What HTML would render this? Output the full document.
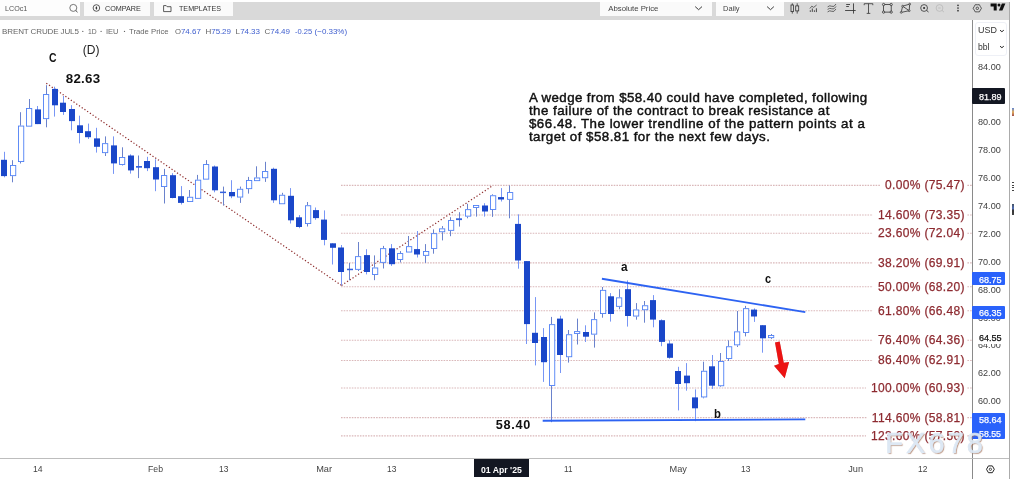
<!DOCTYPE html>
<html><head><meta charset="utf-8"><title>chart</title>
<style>
html,body{margin:0;padding:0;background:#fff}
body{width:1014px;height:479px;position:relative;overflow:hidden;font-family:"Liberation Sans",sans-serif}
.t{position:absolute;white-space:pre;font-family:"Liberation Sans",sans-serif;-webkit-font-smoothing:antialiased}
.a{position:absolute}
svg{position:absolute;left:0;top:0}
</style></head><body>
<div id="w" style="position:absolute;left:0;top:0;width:1014px;height:479px;will-change:transform">
<!-- toolbar -->
<div class="a" style="left:0;top:2px;width:1009px;height:18px;background:#d9d9d9"></div>
<div class="a" style="left:0;top:0;width:80px;height:16px;background:#fdfdfd"></div>
<div class="a" style="left:84px;top:2px;width:66px;height:14px;background:#fafafa"></div>
<div class="a" style="left:153.8px;top:2px;width:79.2px;height:14px;background:#fafafa"></div>
<div class="a" style="left:600px;top:2px;width:111.6px;height:13.6px;background:#fafafa"></div>
<div class="a" style="left:715.8px;top:2px;width:67.8px;height:13.6px;background:#fafafa"></div>
<!-- price axis -->
<div class="a" style="left:972px;top:20px;width:1px;height:459px;background:#8a8a8a"></div>
<div class="a" style="left:1008.7px;top:2px;width:1.5px;height:477px;background:#ababab"></div>
<div class="a" style="left:1011.8px;top:182px;width:2.2px;height:10px;opacity:.85;background:repeating-linear-gradient(#222 0 1.2px,#fff 1.2px 2.6px)"></div>
<div class="a" style="left:1011.8px;top:203.5px;width:2.2px;height:11px;opacity:.85;background:linear-gradient(#234 0,#35a 40%,#111 60%,#222 100%)"></div>
<div class="a" style="left:1012.4px;top:107.5px;width:1.6px;height:8px;opacity:.8;background:linear-gradient(#36c,#d93,#822)"></div>
<!-- time axis line -->
<div class="a" style="left:0;top:458px;width:1009px;height:1px;background:#bdbdbd"></div>
<!-- unit box -->
<div class="a" style="left:974.5px;top:22.3px;width:32.3px;height:33.4px;border:1px solid #eef0f6;border-radius:3px;box-sizing:border-box;background:#fff"></div>
<svg width="1014" height="479" viewBox="0 0 1014 479">
<line x1="341" y1="185.39" x2="972" y2="185.39" stroke="#dab8ba" stroke-width="1.05" stroke-dasharray="1.6 1.1"/>
<line x1="341" y1="214.94" x2="972" y2="214.94" stroke="#dab8ba" stroke-width="1.05" stroke-dasharray="1.6 1.1"/>
<line x1="341" y1="233.20" x2="972" y2="233.20" stroke="#dab8ba" stroke-width="1.05" stroke-dasharray="1.6 1.1"/>
<line x1="341" y1="262.89" x2="972" y2="262.89" stroke="#dab8ba" stroke-width="1.05" stroke-dasharray="1.6 1.1"/>
<line x1="341" y1="286.73" x2="972" y2="286.73" stroke="#dab8ba" stroke-width="1.05" stroke-dasharray="1.6 1.1"/>
<line x1="341" y1="310.71" x2="972" y2="310.71" stroke="#dab8ba" stroke-width="1.05" stroke-dasharray="1.6 1.1"/>
<line x1="341" y1="340.26" x2="972" y2="340.26" stroke="#dab8ba" stroke-width="1.05" stroke-dasharray="1.6 1.1"/>
<line x1="341" y1="360.47" x2="972" y2="360.47" stroke="#dab8ba" stroke-width="1.05" stroke-dasharray="1.6 1.1"/>
<line x1="341" y1="388.08" x2="972" y2="388.08" stroke="#dab8ba" stroke-width="1.05" stroke-dasharray="1.6 1.1"/>
<line x1="341" y1="417.63" x2="972" y2="417.63" stroke="#dab8ba" stroke-width="1.05" stroke-dasharray="1.6 1.1"/>
<line x1="341" y1="435.89" x2="972" y2="435.89" stroke="#dab8ba" stroke-width="1.05" stroke-dasharray="1.6 1.1"/>
<line x1="46.3" y1="83.2" x2="341.5" y2="285.4" stroke="#8e2c2c" stroke-width="1.2" stroke-dasharray="1.25 2.05"/>
<line x1="341.5" y1="285.4" x2="493" y2="185.5" stroke="#8e2c2c" stroke-width="1.2" stroke-dasharray="1.25 2.05"/>
<line x1="4.50" y1="151.8" x2="4.50" y2="177.3" stroke="#7896f5" stroke-width="1"/>
<rect x="1.00" y="159.8" width="6" height="16.3" fill="#1a47c9"/>
<line x1="12.50" y1="160.2" x2="12.50" y2="165.0" stroke="#6a82cc" stroke-width="1"/>
<line x1="12.50" y1="176.1" x2="12.50" y2="182.3" stroke="#6a82cc" stroke-width="1"/>
<rect x="10.45" y="165.45" width="5.3" height="10.20" fill="#fff" stroke="#4f80f5" stroke-width="0.9"/>
<line x1="20.50" y1="112.2" x2="20.50" y2="125.6" stroke="#6a82cc" stroke-width="1"/>
<line x1="20.50" y1="162.0" x2="20.50" y2="163.5" stroke="#6a82cc" stroke-width="1"/>
<rect x="18.45" y="126.05" width="5.3" height="35.50" fill="#fff" stroke="#4f80f5" stroke-width="0.9"/>
<line x1="29.50" y1="99.0" x2="29.50" y2="108.0" stroke="#6a82cc" stroke-width="1"/>
<line x1="29.50" y1="126.6" x2="29.50" y2="126.6" stroke="#6a82cc" stroke-width="1"/>
<rect x="26.45" y="108.45" width="5.3" height="17.70" fill="#fff" stroke="#4f80f5" stroke-width="0.9"/>
<line x1="37.50" y1="106.0" x2="37.50" y2="124.1" stroke="#7896f5" stroke-width="1"/>
<rect x="35.00" y="109.4" width="6" height="14.7" fill="#1a47c9"/>
<line x1="46.50" y1="85.2" x2="46.50" y2="94.1" stroke="#6a82cc" stroke-width="1"/>
<line x1="46.50" y1="119.1" x2="46.50" y2="127.3" stroke="#6a82cc" stroke-width="1"/>
<rect x="43.45" y="94.55" width="5.3" height="24.10" fill="#fff" stroke="#4f80f5" stroke-width="0.9"/>
<line x1="54.50" y1="86.7" x2="54.50" y2="116.6" stroke="#7896f5" stroke-width="1"/>
<rect x="52.00" y="88.9" width="6" height="16.4" fill="#1a47c9"/>
<line x1="63.50" y1="96.0" x2="63.50" y2="114.9" stroke="#7896f5" stroke-width="1"/>
<rect x="60.00" y="102.7" width="6" height="9.3" fill="#1a47c9"/>
<line x1="71.50" y1="105.2" x2="71.50" y2="130.3" stroke="#7896f5" stroke-width="1"/>
<rect x="69.00" y="109.0" width="6" height="12.1" fill="#1a47c9"/>
<line x1="79.50" y1="115.7" x2="79.50" y2="143.4" stroke="#7896f5" stroke-width="1"/>
<rect x="77.00" y="125.3" width="6" height="7.7" fill="#1a47c9"/>
<line x1="88.50" y1="123.6" x2="88.50" y2="139.0" stroke="#7896f5" stroke-width="1"/>
<rect x="85.00" y="131.2" width="6" height="6.0" fill="#1a47c9"/>
<line x1="96.50" y1="127.8" x2="96.50" y2="152.6" stroke="#7896f5" stroke-width="1"/>
<rect x="94.00" y="138.4" width="6" height="8.4" fill="#1a47c9"/>
<line x1="105.50" y1="136.4" x2="105.50" y2="143.2" stroke="#6a82cc" stroke-width="1"/>
<line x1="105.50" y1="153.1" x2="105.50" y2="156.0" stroke="#6a82cc" stroke-width="1"/>
<rect x="102.45" y="143.65" width="5.3" height="9.00" fill="#fff" stroke="#4f80f5" stroke-width="0.9"/>
<line x1="113.50" y1="136.4" x2="113.50" y2="173.9" stroke="#7896f5" stroke-width="1"/>
<rect x="111.00" y="145.4" width="6" height="18.0" fill="#1a47c9"/>
<line x1="122.50" y1="147.3" x2="122.50" y2="157.0" stroke="#6a82cc" stroke-width="1"/>
<line x1="122.50" y1="164.9" x2="122.50" y2="165.5" stroke="#6a82cc" stroke-width="1"/>
<rect x="119.45" y="157.45" width="5.3" height="7.00" fill="#fff" stroke="#4f80f5" stroke-width="0.9"/>
<line x1="130.50" y1="154.3" x2="130.50" y2="173.6" stroke="#7896f5" stroke-width="1"/>
<rect x="128.00" y="155.5" width="6" height="14.9" fill="#1a47c9"/>
<line x1="138.50" y1="155.5" x2="138.50" y2="178.1" stroke="#6a82cc" stroke-width="1"/>
<rect x="136.00" y="166.0" width="6" height="1.7" fill="#3562e0"/>
<line x1="147.50" y1="156.8" x2="147.50" y2="171.1" stroke="#7896f5" stroke-width="1"/>
<rect x="144.00" y="161.0" width="6" height="7.2" fill="#1a47c9"/>
<line x1="155.50" y1="159.3" x2="155.50" y2="191.2" stroke="#7896f5" stroke-width="1"/>
<rect x="153.00" y="167.2" width="6" height="12.3" fill="#1a47c9"/>
<line x1="164.50" y1="168.9" x2="164.50" y2="175.1" stroke="#6a82cc" stroke-width="1"/>
<line x1="164.50" y1="187.0" x2="164.50" y2="203.5" stroke="#6a82cc" stroke-width="1"/>
<rect x="161.45" y="175.55" width="5.3" height="11.00" fill="#fff" stroke="#4f80f5" stroke-width="0.9"/>
<line x1="172.50" y1="173.2" x2="172.50" y2="198.3" stroke="#7896f5" stroke-width="1"/>
<rect x="170.00" y="175.2" width="6" height="22.8" fill="#1a47c9"/>
<line x1="181.50" y1="186.1" x2="181.50" y2="204.5" stroke="#7896f5" stroke-width="1"/>
<rect x="178.00" y="196.2" width="6" height="6.7" fill="#1a47c9"/>
<line x1="189.50" y1="190.0" x2="189.50" y2="196.8" stroke="#6a82cc" stroke-width="1"/>
<line x1="189.50" y1="202.0" x2="189.50" y2="202.0" stroke="#6a82cc" stroke-width="1"/>
<rect x="187.45" y="197.25" width="5.3" height="4.30" fill="#fff" stroke="#4f80f5" stroke-width="0.9"/>
<line x1="197.50" y1="174.9" x2="197.50" y2="179.7" stroke="#6a82cc" stroke-width="1"/>
<line x1="197.50" y1="198.8" x2="197.50" y2="198.8" stroke="#6a82cc" stroke-width="1"/>
<rect x="195.45" y="180.15" width="5.3" height="18.20" fill="#fff" stroke="#4f80f5" stroke-width="0.9"/>
<line x1="206.50" y1="160.1" x2="206.50" y2="164.1" stroke="#6a82cc" stroke-width="1"/>
<line x1="206.50" y1="179.6" x2="206.50" y2="179.6" stroke="#6a82cc" stroke-width="1"/>
<rect x="203.45" y="164.55" width="5.3" height="14.60" fill="#fff" stroke="#4f80f5" stroke-width="0.9"/>
<line x1="214.50" y1="165.5" x2="214.50" y2="192.3" stroke="#7896f5" stroke-width="1"/>
<rect x="212.00" y="166.5" width="6" height="23.8" fill="#1a47c9"/>
<line x1="223.50" y1="186.6" x2="223.50" y2="205.4" stroke="#6a82cc" stroke-width="1"/>
<rect x="220.00" y="191.6" width="6" height="1.5" fill="#3562e0"/>
<line x1="231.50" y1="180.2" x2="231.50" y2="198.2" stroke="#7896f5" stroke-width="1"/>
<rect x="229.00" y="192.0" width="6" height="4.3" fill="#1a47c9"/>
<line x1="240.50" y1="186.6" x2="240.50" y2="188.8" stroke="#6a82cc" stroke-width="1"/>
<line x1="240.50" y1="197.5" x2="240.50" y2="202.9" stroke="#6a82cc" stroke-width="1"/>
<rect x="237.45" y="189.25" width="5.3" height="7.80" fill="#fff" stroke="#4f80f5" stroke-width="0.9"/>
<line x1="248.50" y1="176.9" x2="248.50" y2="180.0" stroke="#6a82cc" stroke-width="1"/>
<line x1="248.50" y1="189.1" x2="248.50" y2="193.6" stroke="#6a82cc" stroke-width="1"/>
<rect x="246.45" y="180.45" width="5.3" height="8.20" fill="#fff" stroke="#4f80f5" stroke-width="0.9"/>
<line x1="256.50" y1="166.3" x2="256.50" y2="177.5" stroke="#6a82cc" stroke-width="1"/>
<line x1="256.50" y1="181.1" x2="256.50" y2="181.1" stroke="#6a82cc" stroke-width="1"/>
<rect x="254.45" y="177.95" width="5.3" height="2.70" fill="#fff" stroke="#4f80f5" stroke-width="0.9"/>
<line x1="265.50" y1="161.8" x2="265.50" y2="171.1" stroke="#6a82cc" stroke-width="1"/>
<line x1="265.50" y1="178.2" x2="265.50" y2="181.9" stroke="#6a82cc" stroke-width="1"/>
<rect x="262.45" y="171.55" width="5.3" height="6.20" fill="#fff" stroke="#4f80f5" stroke-width="0.9"/>
<line x1="273.50" y1="167.7" x2="273.50" y2="202.9" stroke="#7896f5" stroke-width="1"/>
<rect x="271.00" y="168.8" width="6" height="31.5" fill="#1a47c9"/>
<line x1="282.50" y1="192.8" x2="282.50" y2="194.8" stroke="#6a82cc" stroke-width="1"/>
<line x1="282.50" y1="204.2" x2="282.50" y2="204.2" stroke="#6a82cc" stroke-width="1"/>
<rect x="279.45" y="195.25" width="5.3" height="8.50" fill="#fff" stroke="#4f80f5" stroke-width="0.9"/>
<line x1="290.50" y1="188.1" x2="290.50" y2="223.5" stroke="#7896f5" stroke-width="1"/>
<rect x="288.00" y="195.8" width="6" height="24.5" fill="#1a47c9"/>
<line x1="299.50" y1="215.1" x2="299.50" y2="228.2" stroke="#7896f5" stroke-width="1"/>
<rect x="296.00" y="217.3" width="6" height="9.7" fill="#1a47c9"/>
<line x1="307.50" y1="202.0" x2="307.50" y2="205.3" stroke="#6a82cc" stroke-width="1"/>
<line x1="307.50" y1="224.0" x2="307.50" y2="226.5" stroke="#6a82cc" stroke-width="1"/>
<rect x="305.45" y="205.75" width="5.3" height="17.80" fill="#fff" stroke="#4f80f5" stroke-width="0.9"/>
<line x1="315.50" y1="207.5" x2="315.50" y2="219.8" stroke="#7896f5" stroke-width="1"/>
<rect x="313.00" y="210.1" width="6" height="8.0" fill="#1a47c9"/>
<line x1="324.50" y1="210.4" x2="324.50" y2="245.3" stroke="#7896f5" stroke-width="1"/>
<rect x="321.00" y="219.6" width="6" height="20.3" fill="#1a47c9"/>
<line x1="332.50" y1="243.3" x2="332.50" y2="264.5" stroke="#7896f5" stroke-width="1"/>
<rect x="330.00" y="243.3" width="6" height="4.5" fill="#1a47c9"/>
<line x1="341.50" y1="245.0" x2="341.50" y2="285.4" stroke="#7896f5" stroke-width="1"/>
<rect x="338.00" y="247.5" width="6" height="24.5" fill="#1a47c9"/>
<line x1="349.50" y1="263.0" x2="349.50" y2="280.2" stroke="#6a82cc" stroke-width="1"/>
<rect x="347.00" y="268.7" width="6" height="1.5" fill="#3562e0"/>
<line x1="358.50" y1="242.0" x2="358.50" y2="256.2" stroke="#6a82cc" stroke-width="1"/>
<line x1="358.50" y1="269.8" x2="358.50" y2="271.0" stroke="#6a82cc" stroke-width="1"/>
<rect x="355.45" y="256.65" width="5.3" height="12.70" fill="#fff" stroke="#4f80f5" stroke-width="0.9"/>
<line x1="366.50" y1="249.2" x2="366.50" y2="274.4" stroke="#7896f5" stroke-width="1"/>
<rect x="364.00" y="255.1" width="6" height="16.9" fill="#1a47c9"/>
<line x1="374.50" y1="255.4" x2="374.50" y2="267.5" stroke="#6a82cc" stroke-width="1"/>
<line x1="374.50" y1="274.9" x2="374.50" y2="280.2" stroke="#6a82cc" stroke-width="1"/>
<rect x="372.45" y="267.95" width="5.3" height="6.50" fill="#fff" stroke="#4f80f5" stroke-width="0.9"/>
<line x1="383.50" y1="245.9" x2="383.50" y2="248.2" stroke="#6a82cc" stroke-width="1"/>
<line x1="383.50" y1="262.8" x2="383.50" y2="268.5" stroke="#6a82cc" stroke-width="1"/>
<rect x="380.45" y="248.65" width="5.3" height="13.70" fill="#fff" stroke="#4f80f5" stroke-width="0.9"/>
<line x1="391.50" y1="244.1" x2="391.50" y2="265.9" stroke="#7896f5" stroke-width="1"/>
<rect x="389.00" y="248.3" width="6" height="15.9" fill="#1a47c9"/>
<line x1="400.50" y1="251.1" x2="400.50" y2="253.1" stroke="#6a82cc" stroke-width="1"/>
<line x1="400.50" y1="260.0" x2="400.50" y2="262.4" stroke="#6a82cc" stroke-width="1"/>
<rect x="397.45" y="253.55" width="5.3" height="6.00" fill="#fff" stroke="#4f80f5" stroke-width="0.9"/>
<line x1="408.50" y1="236.0" x2="408.50" y2="246.2" stroke="#6a82cc" stroke-width="1"/>
<line x1="408.50" y1="252.5" x2="408.50" y2="252.5" stroke="#6a82cc" stroke-width="1"/>
<rect x="406.45" y="246.65" width="5.3" height="5.40" fill="#fff" stroke="#4f80f5" stroke-width="0.9"/>
<line x1="417.50" y1="231.0" x2="417.50" y2="257.5" stroke="#7896f5" stroke-width="1"/>
<rect x="414.00" y="249.1" width="6" height="5.4" fill="#1a47c9"/>
<line x1="425.50" y1="244.1" x2="425.50" y2="251.0" stroke="#6a82cc" stroke-width="1"/>
<line x1="425.50" y1="255.8" x2="425.50" y2="262.9" stroke="#6a82cc" stroke-width="1"/>
<rect x="423.45" y="251.45" width="5.3" height="3.90" fill="#fff" stroke="#4f80f5" stroke-width="0.9"/>
<line x1="433.50" y1="229.4" x2="433.50" y2="233.2" stroke="#6a82cc" stroke-width="1"/>
<line x1="433.50" y1="248.9" x2="433.50" y2="253.7" stroke="#6a82cc" stroke-width="1"/>
<rect x="431.45" y="233.65" width="5.3" height="14.80" fill="#fff" stroke="#4f80f5" stroke-width="0.9"/>
<line x1="442.50" y1="226.1" x2="442.50" y2="228.4" stroke="#6a82cc" stroke-width="1"/>
<line x1="442.50" y1="232.2" x2="442.50" y2="240.4" stroke="#6a82cc" stroke-width="1"/>
<rect x="439.45" y="228.85" width="5.3" height="2.90" fill="#fff" stroke="#4f80f5" stroke-width="0.9"/>
<line x1="450.50" y1="217.2" x2="450.50" y2="220.1" stroke="#6a82cc" stroke-width="1"/>
<line x1="450.50" y1="230.8" x2="450.50" y2="236.2" stroke="#6a82cc" stroke-width="1"/>
<rect x="448.45" y="220.55" width="5.3" height="9.80" fill="#fff" stroke="#4f80f5" stroke-width="0.9"/>
<line x1="459.50" y1="212.2" x2="459.50" y2="226.6" stroke="#6a82cc" stroke-width="1"/>
<rect x="456.00" y="218.3" width="6" height="1.8" fill="#3562e0"/>
<line x1="467.50" y1="203.8" x2="467.50" y2="209.2" stroke="#6a82cc" stroke-width="1"/>
<line x1="467.50" y1="216.6" x2="467.50" y2="218.3" stroke="#6a82cc" stroke-width="1"/>
<rect x="465.45" y="209.65" width="5.3" height="6.50" fill="#fff" stroke="#4f80f5" stroke-width="0.9"/>
<line x1="476.50" y1="205.2" x2="476.50" y2="205.0" stroke="#6a82cc" stroke-width="1"/>
<line x1="476.50" y1="207.9" x2="476.50" y2="216.6" stroke="#6a82cc" stroke-width="1"/>
<rect x="473.45" y="205.45" width="5.3" height="2.00" fill="#fff" stroke="#4f80f5" stroke-width="0.9"/>
<line x1="484.50" y1="203.2" x2="484.50" y2="216.6" stroke="#7896f5" stroke-width="1"/>
<rect x="482.00" y="205.5" width="6" height="6.0" fill="#1a47c9"/>
<line x1="492.50" y1="194.3" x2="492.50" y2="195.3" stroke="#6a82cc" stroke-width="1"/>
<line x1="492.50" y1="209.9" x2="492.50" y2="216.9" stroke="#6a82cc" stroke-width="1"/>
<rect x="490.45" y="195.75" width="5.3" height="13.70" fill="#fff" stroke="#4f80f5" stroke-width="0.9"/>
<line x1="501.50" y1="188.1" x2="501.50" y2="201.5" stroke="#7896f5" stroke-width="1"/>
<rect x="498.00" y="197.1" width="6" height="2.4" fill="#1a47c9"/>
<line x1="509.50" y1="185.4" x2="509.50" y2="192.1" stroke="#6a82cc" stroke-width="1"/>
<line x1="509.50" y1="199.8" x2="509.50" y2="218.3" stroke="#6a82cc" stroke-width="1"/>
<rect x="507.45" y="192.55" width="5.3" height="6.80" fill="#fff" stroke="#4f80f5" stroke-width="0.9"/>
<line x1="518.50" y1="214.3" x2="518.50" y2="268.7" stroke="#7896f5" stroke-width="1"/>
<rect x="515.00" y="223.9" width="6" height="36.6" fill="#1a47c9"/>
<line x1="526.50" y1="261.1" x2="526.50" y2="344.0" stroke="#7896f5" stroke-width="1"/>
<rect x="524.00" y="261.1" width="6" height="63.0" fill="#1a47c9"/>
<line x1="535.50" y1="297.1" x2="535.50" y2="365.4" stroke="#7896f5" stroke-width="1"/>
<rect x="532.00" y="332.8" width="6" height="10.2" fill="#1a47c9"/>
<line x1="543.50" y1="328.1" x2="543.50" y2="381.9" stroke="#7896f5" stroke-width="1"/>
<rect x="541.00" y="337.0" width="6" height="25.2" fill="#1a47c9"/>
<line x1="551.50" y1="316.9" x2="551.50" y2="324.2" stroke="#6a82cc" stroke-width="1"/>
<line x1="551.50" y1="386.0" x2="551.50" y2="422.2" stroke="#6a82cc" stroke-width="1"/>
<rect x="549.45" y="324.65" width="5.3" height="60.90" fill="#fff" stroke="#4f80f5" stroke-width="0.9"/>
<line x1="560.50" y1="315.7" x2="560.50" y2="373.0" stroke="#7896f5" stroke-width="1"/>
<rect x="557.00" y="318.6" width="6" height="36.4" fill="#1a47c9"/>
<line x1="568.50" y1="330.0" x2="568.50" y2="334.3" stroke="#6a82cc" stroke-width="1"/>
<line x1="568.50" y1="357.2" x2="568.50" y2="362.6" stroke="#6a82cc" stroke-width="1"/>
<rect x="566.45" y="334.75" width="5.3" height="22.00" fill="#fff" stroke="#4f80f5" stroke-width="0.9"/>
<line x1="577.50" y1="318.6" x2="577.50" y2="331.3" stroke="#6a82cc" stroke-width="1"/>
<line x1="577.50" y1="333.8" x2="577.50" y2="344.5" stroke="#6a82cc" stroke-width="1"/>
<rect x="574.45" y="331.60" width="5.3" height="1.90" fill="#fff" stroke="#4f80f5" stroke-width="0.9"/>
<line x1="585.50" y1="325.3" x2="585.50" y2="342.0" stroke="#7896f5" stroke-width="1"/>
<rect x="583.00" y="332.0" width="6" height="4.7" fill="#1a47c9"/>
<line x1="594.50" y1="312.4" x2="594.50" y2="319.2" stroke="#6a82cc" stroke-width="1"/>
<line x1="594.50" y1="334.6" x2="594.50" y2="347.6" stroke="#6a82cc" stroke-width="1"/>
<rect x="591.45" y="319.65" width="5.3" height="14.50" fill="#fff" stroke="#4f80f5" stroke-width="0.9"/>
<line x1="602.50" y1="287.0" x2="602.50" y2="289.9" stroke="#6a82cc" stroke-width="1"/>
<line x1="602.50" y1="314.0" x2="602.50" y2="317.7" stroke="#6a82cc" stroke-width="1"/>
<rect x="600.45" y="290.35" width="5.3" height="23.20" fill="#fff" stroke="#4f80f5" stroke-width="0.9"/>
<line x1="610.50" y1="293.1" x2="610.50" y2="321.6" stroke="#7896f5" stroke-width="1"/>
<rect x="608.00" y="296.3" width="6" height="17.7" fill="#1a47c9"/>
<line x1="619.50" y1="289.2" x2="619.50" y2="297.4" stroke="#6a82cc" stroke-width="1"/>
<line x1="619.50" y1="306.8" x2="619.50" y2="309.3" stroke="#6a82cc" stroke-width="1"/>
<rect x="616.45" y="297.85" width="5.3" height="8.50" fill="#fff" stroke="#4f80f5" stroke-width="0.9"/>
<line x1="627.50" y1="280.4" x2="627.50" y2="326.6" stroke="#7896f5" stroke-width="1"/>
<rect x="625.00" y="289.2" width="6" height="26.8" fill="#1a47c9"/>
<line x1="636.50" y1="303.1" x2="636.50" y2="309.5" stroke="#6a82cc" stroke-width="1"/>
<line x1="636.50" y1="316.5" x2="636.50" y2="319.7" stroke="#6a82cc" stroke-width="1"/>
<rect x="633.45" y="309.95" width="5.3" height="6.10" fill="#fff" stroke="#4f80f5" stroke-width="0.9"/>
<line x1="644.50" y1="301.0" x2="644.50" y2="305.3" stroke="#6a82cc" stroke-width="1"/>
<line x1="644.50" y1="310.2" x2="644.50" y2="322.7" stroke="#6a82cc" stroke-width="1"/>
<rect x="642.45" y="305.75" width="5.3" height="4.00" fill="#fff" stroke="#4f80f5" stroke-width="0.9"/>
<line x1="653.50" y1="295.1" x2="653.50" y2="327.3" stroke="#7896f5" stroke-width="1"/>
<rect x="650.00" y="300.1" width="6" height="19.5" fill="#1a47c9"/>
<line x1="661.50" y1="319.4" x2="661.50" y2="346.2" stroke="#7896f5" stroke-width="1"/>
<rect x="659.00" y="320.2" width="6" height="21.7" fill="#1a47c9"/>
<line x1="669.50" y1="340.3" x2="669.50" y2="358.7" stroke="#7896f5" stroke-width="1"/>
<rect x="667.00" y="343.5" width="6" height="14.3" fill="#1a47c9"/>
<line x1="678.50" y1="366.8" x2="678.50" y2="410.4" stroke="#7896f5" stroke-width="1"/>
<rect x="675.00" y="371.0" width="6" height="13.0" fill="#1a47c9"/>
<line x1="686.50" y1="363.1" x2="686.50" y2="390.7" stroke="#7896f5" stroke-width="1"/>
<rect x="684.00" y="375.6" width="6" height="7.6" fill="#1a47c9"/>
<line x1="695.50" y1="389.4" x2="695.50" y2="421.2" stroke="#7896f5" stroke-width="1"/>
<rect x="692.00" y="397.4" width="6" height="10.9" fill="#1a47c9"/>
<line x1="703.50" y1="361.7" x2="703.50" y2="370.8" stroke="#6a82cc" stroke-width="1"/>
<line x1="703.50" y1="397.4" x2="703.50" y2="398.3" stroke="#6a82cc" stroke-width="1"/>
<rect x="701.45" y="371.25" width="5.3" height="25.70" fill="#fff" stroke="#4f80f5" stroke-width="0.9"/>
<line x1="712.50" y1="355.0" x2="712.50" y2="388.9" stroke="#7896f5" stroke-width="1"/>
<rect x="709.00" y="366.3" width="6" height="19.4" fill="#1a47c9"/>
<line x1="720.50" y1="353.0" x2="720.50" y2="361.1" stroke="#6a82cc" stroke-width="1"/>
<line x1="720.50" y1="386.2" x2="720.50" y2="386.9" stroke="#6a82cc" stroke-width="1"/>
<rect x="718.45" y="361.55" width="5.3" height="24.20" fill="#fff" stroke="#4f80f5" stroke-width="0.9"/>
<line x1="728.50" y1="340.3" x2="728.50" y2="346.3" stroke="#6a82cc" stroke-width="1"/>
<line x1="728.50" y1="359.0" x2="728.50" y2="361.0" stroke="#6a82cc" stroke-width="1"/>
<rect x="726.45" y="346.75" width="5.3" height="11.80" fill="#fff" stroke="#4f80f5" stroke-width="0.9"/>
<line x1="737.50" y1="311.0" x2="737.50" y2="331.4" stroke="#6a82cc" stroke-width="1"/>
<line x1="737.50" y1="345.3" x2="737.50" y2="347.0" stroke="#6a82cc" stroke-width="1"/>
<rect x="734.45" y="331.85" width="5.3" height="13.00" fill="#fff" stroke="#4f80f5" stroke-width="0.9"/>
<line x1="745.50" y1="305.9" x2="745.50" y2="308.2" stroke="#6a82cc" stroke-width="1"/>
<line x1="745.50" y1="332.9" x2="745.50" y2="336.4" stroke="#6a82cc" stroke-width="1"/>
<rect x="743.45" y="308.65" width="5.3" height="23.80" fill="#fff" stroke="#4f80f5" stroke-width="0.9"/>
<line x1="754.50" y1="308.4" x2="754.50" y2="321.9" stroke="#7896f5" stroke-width="1"/>
<rect x="751.00" y="309.6" width="6" height="6.9" fill="#1a47c9"/>
<line x1="762.50" y1="325.2" x2="762.50" y2="352.7" stroke="#7896f5" stroke-width="1"/>
<rect x="760.00" y="325.2" width="6" height="13.1" fill="#1a47c9"/>
<line x1="771.50" y1="334.0" x2="771.50" y2="335.0" stroke="#6a82cc" stroke-width="1"/>
<line x1="771.50" y1="338.1" x2="771.50" y2="339.0" stroke="#6a82cc" stroke-width="1"/>
<rect x="768.45" y="335.45" width="5.3" height="2.20" fill="#fff" stroke="#4f80f5" stroke-width="0.9"/>
<line x1="601.9" y1="278.8" x2="805.3" y2="312.15" stroke="#2d63f2" stroke-width="1.9"/>
<line x1="542.7" y1="420.8" x2="805.3" y2="419.4" stroke="#2d63f2" stroke-width="1.9"/>
<polygon points="775.0,342.5 779.7,341.6 783.8,362.8 789.1,361.9 784.7,378.2 774,365.7 778.8,364.1" fill="#ec1313" style="filter:drop-shadow(0.5px 0.6px 0.5px rgba(60,0,0,.3))"/>
</svg>
<div class="t" style="left:528.90px;top:87.65px;font-size:13.3px;line-height:19px;letter-spacing:0.407px;color:#111;-webkit-text-stroke:0.45px #111;">A wedge from $58.40 could have completed, following</div>
<div class="t" style="left:528.90px;top:100.75px;font-size:13.3px;line-height:19px;letter-spacing:0.477px;color:#111;-webkit-text-stroke:0.45px #111;">the failure of the contract to break resistance at</div>
<div class="t" style="left:528.90px;top:113.85px;font-size:13.3px;line-height:19px;letter-spacing:0.527px;color:#111;-webkit-text-stroke:0.45px #111;">$66.48. The lower trendline of the pattern points at a</div>
<div class="t" style="left:528.90px;top:127.05px;font-size:13.3px;line-height:19px;letter-spacing:0.468px;color:#111;-webkit-text-stroke:0.45px #111;">target of $58.81 for the next few days.</div>
<div class="t" style="left:48.60px;top:48.36px;font-size:13.5px;line-height:19px;letter-spacing:0.000px;color:#111;font-weight:bold;transform:scaleX(0.7716);transform-origin:0 50%;">C</div>
<div class="t" style="left:82.70px;top:42.44px;font-size:12px;line-height:17px;letter-spacing:0.110px;color:#222;">(D)</div>
<div class="t" style="left:65.70px;top:68.85px;font-size:13.3px;line-height:19px;letter-spacing:0.296px;color:#111;font-weight:bold;">82.63</div>
<div class="t" style="left:495.70px;top:415.80px;font-size:12.7px;line-height:18px;letter-spacing:0.697px;color:#111;font-weight:bold;">58.40</div>
<div class="t" style="left:621.30px;top:256.85px;font-size:13.4px;line-height:19px;letter-spacing:0.000px;color:#111;font-weight:bold;transform:scaleX(0.8850);transform-origin:0 50%;">a</div>
<div class="t" style="left:714.30px;top:404.85px;font-size:13.2px;line-height:18px;letter-spacing:0.000px;color:#111;font-weight:bold;transform:scaleX(0.8569);transform-origin:0 50%;">b</div>
<div class="t" style="left:764.90px;top:268.95px;font-size:13.4px;line-height:19px;letter-spacing:0.000px;color:#111;font-weight:bold;transform:scaleX(0.8202);transform-origin:0 50%;">c</div>
<div style="position:absolute;left:880.4px;top:179.1px;width:87.1px;height:13px;background:#fff"></div>
<div class="t" style="left:884.96px;top:177.33px;font-size:12px;line-height:17px;letter-spacing:0.349px;color:#8d2a30;-webkit-text-stroke:0.25px #8d2a30;">0.00% (75.47)</div>
<div style="position:absolute;left:873.4px;top:208.6px;width:94.1px;height:13px;background:#fff"></div>
<div class="t" style="left:877.96px;top:206.88px;font-size:12px;line-height:17px;letter-spacing:0.343px;color:#8d2a30;-webkit-text-stroke:0.25px #8d2a30;">14.60% (73.35)</div>
<div style="position:absolute;left:873.4px;top:226.9px;width:94.1px;height:13px;background:#fff"></div>
<div class="t" style="left:877.96px;top:225.14px;font-size:12px;line-height:17px;letter-spacing:0.343px;color:#8d2a30;-webkit-text-stroke:0.25px #8d2a30;">23.60% (72.04)</div>
<div style="position:absolute;left:873.4px;top:256.6px;width:94.1px;height:13px;background:#fff"></div>
<div class="t" style="left:877.96px;top:254.83px;font-size:12px;line-height:17px;letter-spacing:0.343px;color:#8d2a30;-webkit-text-stroke:0.25px #8d2a30;">38.20% (69.91)</div>
<div style="position:absolute;left:873.4px;top:280.4px;width:94.1px;height:13px;background:#fff"></div>
<div class="t" style="left:877.96px;top:278.67px;font-size:12px;line-height:17px;letter-spacing:0.343px;color:#8d2a30;-webkit-text-stroke:0.25px #8d2a30;">50.00% (68.20)</div>
<div style="position:absolute;left:873.4px;top:304.4px;width:94.1px;height:13px;background:#fff"></div>
<div class="t" style="left:877.96px;top:302.65px;font-size:12px;line-height:17px;letter-spacing:0.343px;color:#8d2a30;-webkit-text-stroke:0.25px #8d2a30;">61.80% (66.48)</div>
<div style="position:absolute;left:873.4px;top:334.0px;width:94.1px;height:13px;background:#fff"></div>
<div class="t" style="left:877.96px;top:332.20px;font-size:12px;line-height:17px;letter-spacing:0.343px;color:#8d2a30;-webkit-text-stroke:0.25px #8d2a30;">76.40% (64.36)</div>
<div style="position:absolute;left:873.4px;top:354.2px;width:94.1px;height:13px;background:#fff"></div>
<div class="t" style="left:877.96px;top:352.41px;font-size:12px;line-height:17px;letter-spacing:0.343px;color:#8d2a30;-webkit-text-stroke:0.25px #8d2a30;">86.40% (62.91)</div>
<div style="position:absolute;left:866.4px;top:381.8px;width:101.1px;height:13px;background:#fff"></div>
<div class="t" style="left:870.97px;top:380.01px;font-size:12px;line-height:17px;letter-spacing:0.342px;color:#8d2a30;-webkit-text-stroke:0.25px #8d2a30;">100.00% (60.93)</div>
<div style="position:absolute;left:867.3px;top:411.3px;width:100.2px;height:13px;background:#fff"></div>
<div class="t" style="left:871.86px;top:409.57px;font-size:12px;line-height:17px;letter-spacing:0.343px;color:#8d2a30;-webkit-text-stroke:0.25px #8d2a30;">114.60% (58.81)</div>
<div style="position:absolute;left:866.4px;top:429.6px;width:101.1px;height:13px;background:#fff"></div>
<div class="t" style="left:870.97px;top:427.83px;font-size:12px;line-height:17px;letter-spacing:0.342px;color:#8d2a30;-webkit-text-stroke:0.25px #8d2a30;">123.60% (57.50)</div>
<svg width="1014" height="479" viewBox="0 0 1014 479" fill="none" stroke="#333" stroke-width="0.9">
<g fill="#666" stroke="none"><circle cx="82.8" cy="31.4" r="0.65"/><circle cx="101.1" cy="31.4" r="0.65"/><circle cx="124.5" cy="31.4" r="0.65"/></g>
<!-- search icon -->
<circle cx="73.3" cy="7.9" r="3.5" stroke="#555" stroke-width="0.8"/><line x1="75.8" y1="10.5" x2="77.5" y2="12.2" stroke="#444" stroke-width="1"/>
<!-- compare icon -->
<circle cx="96.4" cy="8" r="3.3" stroke="#333" stroke-width="0.8"/><path d="M96.4 5.9l0.95 2.1-0.95 2.1-0.95-2.1z" fill="#333" stroke="none"/>
<!-- folder icon -->
<path d="M163.6 5.6h2.6l0.9 1.1h3.9v4.9h-7.4z" stroke="#333" stroke-width="0.8"/>
<!-- chevrons -->
<path d="M695.2 6.6l3.4 3.1 3.4-3.1" stroke="#333" stroke-width="0.95"/>
<path d="M767.1 6.6l3.4 3.1 3.4-3.1" stroke="#333" stroke-width="0.95"/>
<!-- candle icon -->
<path d="M792.3 3.3v1.8M792.3 11.6v2M797.2 3.3v2.6M797.2 10.9v2.7" stroke-width="0.8"/>
<rect x="791" y="5.0" width="2.6" height="6.6" stroke-width="0.8"/><rect x="795.7" y="5.9" width="3" height="5" stroke-width="0.8"/>
<!-- indicator icon -->
<path d="M809.9 8.5L811.8 6.2L813.7 7.4L816.6 5.0" stroke="#444" stroke-width="0.8"/>
<path d="M810.3 10.3v1.6M812.3 8.5v3.4M814.4 10.3v1.6M816.4 8.3v3.8" stroke="#333" stroke-width="0.9"/>
<!-- waves -->
<path d="M827.6 6.9q2.1-1.9 4.2-0.6t4.2-2.3M827.6 9.4q2.1-1.9 4.2-0.6t4.2-2.3M827.6 11.9q2.1-1.9 4.2-0.6t4.2-2.3" stroke="#444" stroke-width="0.8"/>
<!-- crosshair -->
<path d="M845.1 10.5h10.6M853.5 3.4v10.2M846.2 4.5h3.8M846.2 6.5h2.7" stroke-width="0.85"/>
<!-- T -->
<path d="M864.2 5.2v-1.5h8.6v1.5M868.5 3.7v9.6M866.7 13.4h3.6" stroke-width="0.8"/>
<!-- rect with corners -->
<rect x="883.6" y="4.5" width="7.6" height="7.6" stroke-width="0.8"/>
<g fill="#d9d9d9" stroke-width="0.8"><circle cx="883.6" cy="4.5" r="1.15"/><circle cx="891.2" cy="4.5" r="1.15"/><circle cx="883.6" cy="12.1" r="1.15"/><circle cx="891.2" cy="12.1" r="1.15"/></g>
<!-- polygon -->
<path d="M902.6 6.2L909.7 4.1L909.2 10.7L901.2 12.4z M902.6 6.2L909.2 10.7" stroke-width="0.8"/>
<g fill="#d9d9d9" stroke-width="0.7"><circle cx="902.6" cy="6.2" r="0.9"/><circle cx="909.7" cy="4.1" r="0.9"/><circle cx="909.2" cy="10.7" r="0.9"/><circle cx="901.2" cy="12.4" r="0.9"/></g>
<!-- zoom in -->
<circle cx="924.1" cy="8" r="3.4" stroke-width="0.8"/><circle cx="924.1" cy="8" r="1.1" fill="#333" stroke="none"/><line x1="926.6" y1="10.4" x2="928.5" y2="12" stroke-width="0.9"/>
<!-- zoom out -->
<circle cx="939.5" cy="8" r="3.4" stroke="#b9b9b9" stroke-width="0.8"/><line x1="938.2" y1="8" x2="940.8" y2="8" stroke="#b9b9b9" stroke-width="0.8"/><line x1="942" y1="10.4" x2="943.9" y2="12" stroke="#b9b9b9" stroke-width="0.9"/>
<!-- 3 dots -->
<g fill="#333" stroke="none"><circle cx="958" cy="5.3" r="0.85"/><circle cx="958" cy="8" r="0.85"/><circle cx="958" cy="10.7" r="0.85"/></g>
<!-- gear -->
<polygon points="981.45,8.30 980.37,10.08 979.38,11.89 977.30,11.85 975.22,11.89 974.23,10.08 973.15,8.30 974.23,6.53 975.22,4.71 977.30,4.75 979.38,4.71 980.37,6.52" stroke-width="0.8" stroke-linejoin="round"/>
<circle cx="977.3" cy="8.3" r="1.25" stroke-width="0.8"/>
<!-- TV logo -->
<g fill="#111" stroke="none"><path d="M990.6 3.4h6.1v7h-3v-4h-3.1z"/><circle cx="999" cy="4.9" r="1.5"/><path d="M1001.9 3.4h3.5l-3 7h-3.5z"/></g>
<!-- unit chevrons -->
<path d="M1000 30.2l1.9 1.5 1.9-1.5" stroke="#222" stroke-width="1"/>
<path d="M1000 46.2l1.9 1.5 1.9-1.5" stroke="#222" stroke-width="1"/>
<!-- bottom-right hexagon -->
<path d="M986.5 469.3l1.95-3.4h3.9l1.95 3.4-1.95 3.4h-3.9z" stroke="#222" stroke-width="1"/><circle cx="990.4" cy="469.3" r="1.15" stroke="#222" stroke-width="0.8"/>
</svg>

<div class="t" style="left:5.30px;top:2.89px;font-size:7.6px;line-height:11px;letter-spacing:0.000px;color:#555;transform:scaleX(0.9435);transform-origin:0 50%;">LCOc1</div>
<div class="t" style="left:105.30px;top:3.69px;font-size:7.4px;line-height:10px;letter-spacing:0.000px;color:#333;transform:scaleX(0.9742);transform-origin:0 50%;">COMPARE</div>
<div class="t" style="left:178.90px;top:3.69px;font-size:7.4px;line-height:10px;letter-spacing:0.000px;color:#333;transform:scaleX(0.9669);transform-origin:0 50%;">TEMPLATES</div>
<div class="t" style="left:608.30px;top:2.69px;font-size:7.8px;line-height:11px;letter-spacing:-0.016px;color:#444;">Absolute Price</div>
<div class="t" style="left:723.30px;top:2.69px;font-size:7.8px;line-height:11px;letter-spacing:0.000px;color:#444;transform:scaleX(0.9565);transform-origin:0 50%;">Daily</div>
<div class="t" style="left:2.00px;top:25.79px;font-size:8.0px;line-height:11px;letter-spacing:-0.108px;color:#666;">BRENT CRUDE JUL5</div>
<div class="t" style="left:87.70px;top:25.79px;font-size:8.0px;line-height:11px;letter-spacing:0.000px;color:#666;transform:scaleX(0.8496);transform-origin:0 50%;">1D</div>
<div class="t" style="left:105.70px;top:25.79px;font-size:8.0px;line-height:11px;letter-spacing:0.000px;color:#666;transform:scaleX(0.9384);transform-origin:0 50%;">IEU</div>
<div class="t" style="left:129.00px;top:25.79px;font-size:8.0px;line-height:11px;letter-spacing:0.000px;color:#666;transform:scaleX(0.9649);transform-origin:0 50%;">Trade Price</div>
<div class="t" style="left:174.70px;top:25.79px;font-size:8.0px;line-height:11px;letter-spacing:0.000px;color:#666;transform:scaleX(0.9615);transform-origin:0 50%;">O</div>
<div class="t" style="left:180.90px;top:25.79px;font-size:8.0px;line-height:11px;letter-spacing:-0.010px;color:#4160cf;">74.67</div>
<div class="t" style="left:205.60px;top:25.79px;font-size:8.0px;line-height:11px;letter-spacing:0.000px;color:#666;">H</div>
<div class="t" style="left:211.30px;top:25.79px;font-size:8.0px;line-height:11px;letter-spacing:-0.110px;color:#4160cf;">75.29</div>
<div class="t" style="left:235.60px;top:25.79px;font-size:8.0px;line-height:11px;letter-spacing:0.000px;color:#666;">L</div>
<div class="t" style="left:240.20px;top:25.79px;font-size:8.0px;line-height:11px;letter-spacing:-0.085px;color:#4160cf;">74.33</div>
<div class="t" style="left:264.60px;top:25.79px;font-size:8.0px;line-height:11px;letter-spacing:0.000px;color:#666;">C</div>
<div class="t" style="left:270.30px;top:25.79px;font-size:8.0px;line-height:11px;letter-spacing:-0.110px;color:#4160cf;">74.49</div>
<div class="t" style="left:294.60px;top:25.79px;font-size:8.0px;line-height:11px;letter-spacing:0.000px;color:#4160cf;transform:scaleX(0.9430);transform-origin:0 50%;">-0.25</div>
<div class="t" style="left:314.60px;top:25.79px;font-size:8.0px;line-height:11px;letter-spacing:-0.026px;color:#4160cf;">(−0.33%)</div>
<div class="t" style="left:977.70px;top:23.91px;font-size:9.2px;line-height:13px;letter-spacing:0.000px;color:#333;transform:scaleX(0.9736);transform-origin:0 50%;">USD</div>
<div class="t" style="left:977.90px;top:39.61px;font-size:9.6px;line-height:13px;letter-spacing:0.000px;color:#333;transform:scaleX(0.8973);transform-origin:0 50%;">bbl</div>
<div class="t" style="left:978.40px;top:59.69px;font-size:9.8px;line-height:14px;letter-spacing:0.000px;color:#404040;transform:scaleX(0.9288);transform-origin:0 50%;">84.00</div>
<div class="t" style="left:978.40px;top:115.45px;font-size:9.8px;line-height:14px;letter-spacing:0.000px;color:#404040;transform:scaleX(0.9288);transform-origin:0 50%;">80.00</div>
<div class="t" style="left:978.40px;top:143.33px;font-size:9.8px;line-height:14px;letter-spacing:0.000px;color:#404040;transform:scaleX(0.9288);transform-origin:0 50%;">78.00</div>
<div class="t" style="left:978.40px;top:171.21px;font-size:9.8px;line-height:14px;letter-spacing:0.000px;color:#404040;transform:scaleX(0.9288);transform-origin:0 50%;">76.00</div>
<div class="t" style="left:978.40px;top:199.09px;font-size:9.8px;line-height:14px;letter-spacing:0.000px;color:#404040;transform:scaleX(0.9288);transform-origin:0 50%;">74.00</div>
<div class="t" style="left:978.40px;top:226.97px;font-size:9.8px;line-height:14px;letter-spacing:0.000px;color:#404040;transform:scaleX(0.9288);transform-origin:0 50%;">72.00</div>
<div class="t" style="left:978.40px;top:254.85px;font-size:9.8px;line-height:14px;letter-spacing:0.000px;color:#404040;transform:scaleX(0.9288);transform-origin:0 50%;">70.00</div>
<div class="t" style="left:978.40px;top:282.73px;font-size:9.8px;line-height:14px;letter-spacing:0.000px;color:#404040;transform:scaleX(0.9288);transform-origin:0 50%;">68.00</div>
<div class="t" style="left:978.40px;top:310.61px;font-size:9.8px;line-height:14px;letter-spacing:0.000px;color:#404040;transform:scaleX(0.9288);transform-origin:0 50%;">66.00</div>
<div class="t" style="left:978.40px;top:338.49px;font-size:9.8px;line-height:14px;letter-spacing:0.000px;color:#404040;transform:scaleX(0.9288);transform-origin:0 50%;">64.00</div>
<div class="t" style="left:978.40px;top:366.37px;font-size:9.8px;line-height:14px;letter-spacing:0.000px;color:#404040;transform:scaleX(0.9288);transform-origin:0 50%;">62.00</div>
<div class="t" style="left:978.40px;top:394.25px;font-size:9.8px;line-height:14px;letter-spacing:0.000px;color:#404040;transform:scaleX(0.9288);transform-origin:0 50%;">60.00</div>
<div class="a" style="left:972.3px;top:88.0px;width:32.8px;height:16.3px;background:#131722;border-radius:1px"></div>
<div class="t" style="left:978.50px;top:90.11px;font-size:9.6px;line-height:13px;letter-spacing:0.000px;color:#fff;transform:scaleX(0.9439);transform-origin:0 50%;-webkit-text-stroke:0.25px #fff;">81.89</div>
<div class="a" style="left:972.3px;top:272.0px;width:32.8px;height:13.1px;background:#2a62fb;border-radius:1px"></div>
<div class="t" style="left:978.50px;top:273.11px;font-size:9.6px;line-height:13px;letter-spacing:0.000px;color:#fff;transform:scaleX(0.9439);transform-origin:0 50%;-webkit-text-stroke:0.25px #fff;">68.75</div>
<div class="a" style="left:972.3px;top:305.7px;width:32.8px;height:13.1px;background:#2a62fb;border-radius:1px"></div>
<div class="t" style="left:978.50px;top:306.01px;font-size:9.6px;line-height:13px;letter-spacing:0.000px;color:#fff;transform:scaleX(0.9439);transform-origin:0 50%;-webkit-text-stroke:0.25px #fff;">66.35</div>
<div class="a" style="left:973.2px;top:331.0px;width:31.9px;height:13.4px;background:#fff;border-radius:0px"></div>
<div class="t" style="left:978.50px;top:331.31px;font-size:9.6px;line-height:13px;letter-spacing:0.000px;color:#111;transform:scaleX(0.9439);transform-origin:0 50%;-webkit-text-stroke:0.25px #111;">64.55</div>
<div class="a" style="left:972.3px;top:412.9px;width:32.8px;height:26.5px;background:#2a62fb;border-radius:1px"></div>
<div class="t" style="left:978.50px;top:413.31px;font-size:9.6px;line-height:13px;letter-spacing:0.000px;color:#fff;transform:scaleX(0.9439);transform-origin:0 50%;-webkit-text-stroke:0.25px #fff;">58.64</div>
<div class="t" style="left:978.90px;top:426.61px;font-size:9.6px;line-height:13px;letter-spacing:0.000px;color:#fff;transform:scaleX(0.9148);transform-origin:0 50%;-webkit-text-stroke:0.25px #fff;">58.55</div>
<div class="t" style="left:32.90px;top:462.81px;font-size:9.2px;line-height:13px;letter-spacing:0.000px;color:#444;transform:scaleX(0.9401);transform-origin:0 50%;">14</div>
<div class="t" style="left:148.25px;top:462.81px;font-size:9.2px;line-height:13px;letter-spacing:0.000px;color:#444;transform:scaleX(0.9515);transform-origin:0 50%;">Feb</div>
<div class="t" style="left:218.60px;top:462.81px;font-size:9.2px;line-height:13px;letter-spacing:0.000px;color:#444;transform:scaleX(0.9205);transform-origin:0 50%;">13</div>
<div class="t" style="left:316.20px;top:462.81px;font-size:9.2px;line-height:13px;letter-spacing:-0.012px;color:#444;">Mar</div>
<div class="t" style="left:387.10px;top:462.81px;font-size:9.2px;line-height:13px;letter-spacing:0.000px;color:#444;transform:scaleX(0.9205);transform-origin:0 50%;">13</div>
<div class="t" style="left:564.00px;top:462.81px;font-size:9.2px;line-height:13px;letter-spacing:0.000px;color:#444;transform:scaleX(0.8779);transform-origin:0 50%;">11</div>
<div class="t" style="left:669.60px;top:462.81px;font-size:9.2px;line-height:13px;letter-spacing:-0.094px;color:#444;">May</div>
<div class="t" style="left:740.60px;top:462.81px;font-size:9.2px;line-height:13px;letter-spacing:0.000px;color:#444;transform:scaleX(0.9205);transform-origin:0 50%;">13</div>
<div class="t" style="left:848.20px;top:462.81px;font-size:9.2px;line-height:13px;letter-spacing:-0.006px;color:#444;">Jun</div>
<div class="t" style="left:918.30px;top:462.81px;font-size:9.2px;line-height:13px;letter-spacing:0.000px;color:#444;transform:scaleX(0.9205);transform-origin:0 50%;">12</div>
<div class="a" style="left:474px;top:459.2px;width:54.9px;height:17.6px;background:#131722"></div>
<div class="t" style="left:480.70px;top:462.71px;font-size:9.4px;line-height:13px;letter-spacing:0.000px;color:#fff;font-weight:bold;transform:scaleX(0.9248);transform-origin:0 50%;">01 Apr '25</div>
<div class="t" style="left:885.2px;top:423.3px;font-size:29px;line-height:40px;letter-spacing:3.09px;color:#dbe7f4;-webkit-text-stroke:0.55px #dbe7f4;text-shadow:1px 1px 1px rgba(165,115,90,.8);opacity:.94">FX678</div>
</div>
</body></html>
